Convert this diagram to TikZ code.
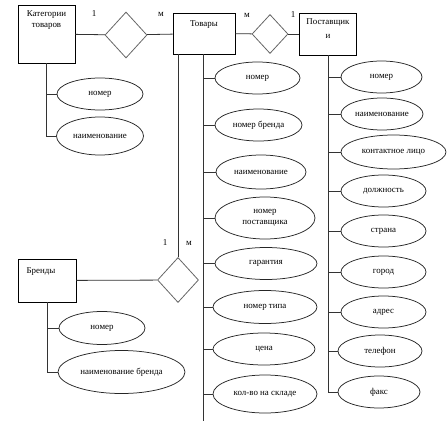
\documentclass[tikz,border=0pt]{standalone}
\usepackage{fontspec}
\setmainfont{Liberation Serif}
\usetikzlibrary{shapes.geometric}
\begin{document}
\begin{tikzpicture}[x=1pt,y=-1pt,
  font=\fontsize{8.9}{11}\selectfont,
  entity/.style={draw=black, rectangle, line width=0.8pt, inner sep=0pt},
  rel/.style={draw=black!60, diamond, line width=0.8pt, inner sep=0pt},
  attr/.style={draw=black!85, ellipse, line width=0.75pt, inner sep=0pt, align=center, minimum height=32pt},
  conn/.style={draw=black!80, line width=0.8pt},
  lbl/.style={inner sep=0pt, align=center},
  card/.style={inner sep=0pt, font=\fontsize{9}{10}\selectfont}]
\useasboundingbox (0,0) rectangle (448,421);

% entities
\node[entity, minimum width=57pt, minimum height=58pt] (kat) at (46.5,34) {};
\node[lbl] (katt) at (46.5,20.5) {Категории\\товаров};
\node[entity, minimum width=62pt, minimum height=41pt] (tov) at (204,33.5) {};
\node[lbl] (tovt) at (204,25) {Товары};
\node[entity, minimum width=57pt, minimum height=42pt] (post) at (328,34) {};
\node[lbl, font=\fontsize{8.9}{14}\selectfont] (postt) at (328,29) {Поставщик\\и};
\node[entity, minimum width=58pt, minimum height=43pt] (brand) at (47,280.5) {};
\node[lbl] (brandt) at (41,272) {Бренды};

% relationships
\node[rel, minimum width=42pt, minimum height=46pt] (d1) at (126,35) {};
\node[rel, minimum width=36pt, minimum height=39pt] (d2) at (270,34) {};
\node[rel, minimum width=41pt, minimum height=45pt] (d3) at (178,280) {};

% cardinalities
\node[card] (c1a) at (94,14) {1};
\node[card] (c1b) at (161,14) {м};
\node[card] (c2a) at (247,15) {м};
\node[card] (c2b) at (293,15) {1};
\node[card] (c3a) at (165,243) {1};
\node[card] (c3b) at (189,243) {м};

% relationship connectors
\draw[conn] (kat) -- (d1);
\draw[conn] (d1) -- (tov);
\draw[conn] (tov) -- (d2);
\draw[conn] (d2) -- (post);
\draw[conn] (brand) -- (d3);
\draw[conn] (tov.south -| d3.north) -- (d3.north);

% Категории attributes
\node[attr, minimum width=86pt] (kn) at (100,94) {номер};
\node[attr, minimum width=87pt, minimum height=38pt] (kname) at (100,136) {наименование};
\draw[conn] (kat.south) |- (kname.west);
\draw[conn] (kn.west) -- (kn.west -| kat.south);

% Бренды attributes
\node[attr, minimum width=86pt, minimum height=33pt] (bn) at (102,328) {номер};
\node[attr, minimum width=127pt, minimum height=43pt] (bname) at (121.5,372) {наименование бренда};
\draw[conn] (brand.south) |- (bname.west);
\draw[conn] (bn.west) -- (bn.west -| brand.south);

% Товары attributes
\coordinate (tovend) at (203,421);
\coordinate (tovtop) at (203,54);
\node[attr, minimum width=85pt] (tn) at (257.5,78) {номер};
\node[attr, minimum width=87pt] (tb) at (258.5,125) {номер бренда};
\node[attr, minimum width=90pt, minimum height=34pt] (tname) at (261,172) {наименование};
\node[attr, minimum width=100pt, minimum height=42pt] (tpost) at (265,218) {номер\\поставщика};
\node[attr, minimum width=102pt] (tgar) at (266,263.5) {гарантия};
\node[attr, minimum width=104pt, minimum height=33pt] (ttype) at (265,307) {номер типа};
\node[attr, minimum width=102pt] (tprice) at (264,349) {цена};
\node[attr, minimum width=104pt, minimum height=38pt] (tqty) at (265,394) {кол-во на складе};
\draw[conn] (tovtop) -- (tovend);
\foreach \n in {tn,tb,tname,tpost,tgar,ttype,tprice,tqty}
  \draw[conn] (\n.west) -- (\n.west -| tovtop);

% Поставщики attributes
\node[attr, minimum width=81pt] (pn) at (381.5,77) {номер};
\node[attr, minimum width=82pt] (pname) at (382,114) {наименование};
\node[attr, minimum width=105pt, minimum height=34pt] (pcont) at (393.5,152) {контактное лицо};
\node[attr, minimum width=85pt] (pdol) at (383.5,191) {должность};
\node[attr, minimum width=85pt] (pstr) at (383.5,231) {страна};
\node[attr, minimum width=85pt] (pcity) at (383.5,272) {город};
\node[attr, minimum width=85pt] (padr) at (383.5,312) {адрес};
\node[attr, minimum width=84pt] (ptel) at (380,351) {телефон};
\node[attr, minimum width=82pt] (pfax) at (379,392) {факс};
\draw[conn] (post.south) |- (pfax.west);
\foreach \n in {pn,pname,pcont,pdol,pstr,pcity,padr,ptel}
  \draw[conn] (\n.west) -- (\n.west -| post.south);
\end{tikzpicture}
\end{document}
